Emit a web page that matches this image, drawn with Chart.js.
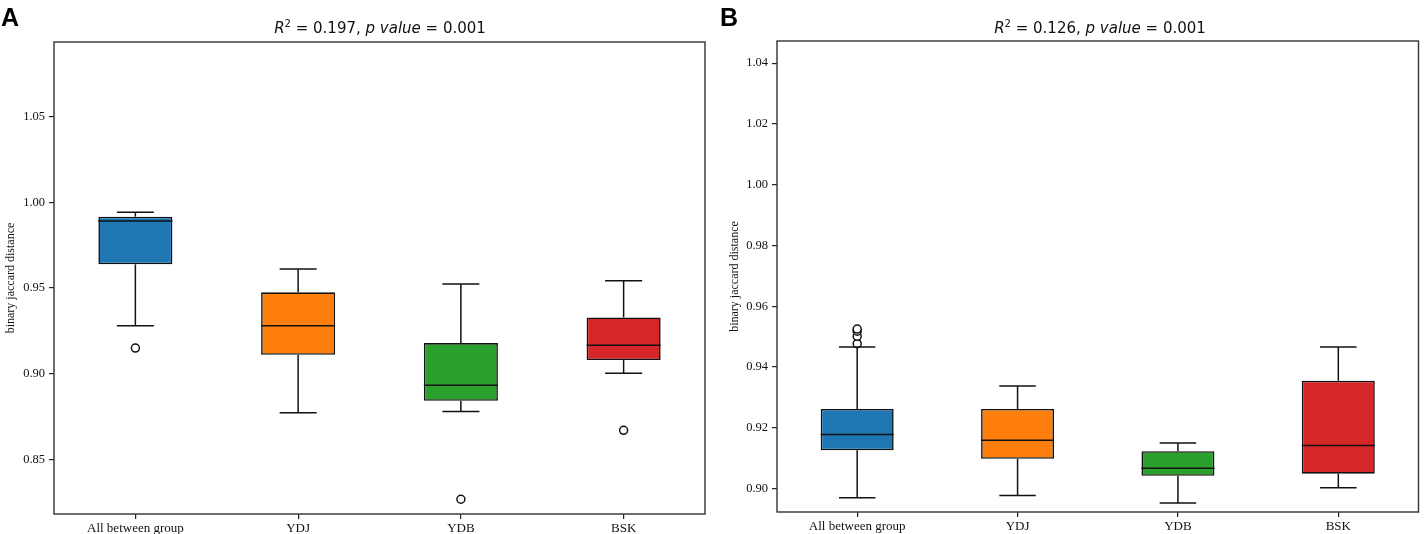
<!DOCTYPE html>
<html>
<head>
<meta charset="utf-8">
<script src="https://cdn.jsdelivr.net/npm/chart.js@4.4.0/dist/chart.umd.min.js"></script>
<style>
  html, body { margin: 0; padding: 0; background: #fff; }
  #wrap { position: relative; width: 1424px; height: 534px; overflow: hidden; }
  .panel { position: absolute; top: 0; width: 712px; height: 534px; }
  .tag { position: absolute; top: 3px; font: bold 25px "Liberation Sans", Arial, sans-serif; color: #000; }
  .title { position: absolute; top: 19px; font: 15px "DejaVu Sans", sans-serif; color: #111; white-space: nowrap; transform: translateX(-50%); }
  .title .sup { font-size: 10px; position: relative; top: -6px; }
</style>
</head>
<body>
<div id="wrap">
  <div class="panel" style="left:0">
    <canvas id="chart-a" width="712" height="534"></canvas>
  </div>
  <div class="panel" style="left:712px">
    <canvas id="chart-b" width="712" height="534"></canvas>
  </div>
  <div class="tag" style="left:1px">A</div>
  <div class="tag" style="left:720px">B</div>
  <div class="title" style="left:380px"><i>R</i><span class="sup">2</span> = 0.197, <i>p value</i> = 0.001</div>
  <div class="title" style="left:1100px"><i>R</i><span class="sup">2</span> = 0.126, <i>p value</i> = 0.001</div>
</div>
<script>
const groups = ['All between group', 'YDJ', 'YDB', 'BSK'];
const colors = ['#1f77b4', '#ff7f0e', '#2ca02c', '#d62728'];

// panel A
const lowA = [0.928, 0.8773, 0.878, 0.9004];
const q1A = [0.9638, 0.9111, 0.8843, 0.908];
const medA = [0.9891, 0.928, 0.8934, 0.9167];
const q3A = [0.9916, 0.9475, 0.9179, 0.9329];
const highA = [0.9942, 0.9611, 0.9523, 0.9543];
const outA = [[0.915], [], [0.8269], [0.8671]];
const ticksA = [0.85, 0.90, 0.95, 1.00, 1.05];

// panel B
const lowB = [0.897, 0.8977, 0.8953, 0.9003];
const q1B = [0.9126, 0.9098, 0.9042, 0.9049];
const medB = [0.9178, 0.9159, 0.9067, 0.9142];
const q3B = [0.9262, 0.9262, 0.9123, 0.9355];
const highB = [0.9466, 0.9338, 0.915, 0.9466];
const outB = [[0.9477, 0.9501, 0.9518, 0.9525], [], [], []];
const ticksB = [0.90, 0.92, 0.94, 0.96, 0.98, 1.00, 1.02, 1.04];

const ink = '#111';

// whiskers, caps and medians, placed with the chart's own scales
const boxParts = {
  id: 'boxParts',
  afterDatasetsDraw(chart, args, opts) {
    const ctx = chart.ctx;
    const x = chart.scales.x;
    const y = chart.scales.y;
    const meta = chart.getDatasetMeta(0);
    ctx.save();
    ctx.strokeStyle = ink;
    ctx.lineWidth = 1.5;
    const seg = (x1, y1, x2, y2) => {
      ctx.beginPath();
      ctx.moveTo(x1, y1);
      ctx.lineTo(x2, y2);
      ctx.stroke();
    };
    opts.med.forEach((m, i) => {
      const cx = x.getPixelForValue(i);
      const half = meta.data[i].width / 2;
      const cap = half / 2;
      const yHigh = y.getPixelForValue(opts.high[i]);
      const yLow = y.getPixelForValue(opts.low[i]);
      seg(cx, y.getPixelForValue(opts.q3[i]), cx, yHigh);
      seg(cx, y.getPixelForValue(opts.q1[i]), cx, yLow);
      seg(cx - cap, yHigh, cx + cap, yHigh);
      seg(cx - cap, yLow, cx + cap, yLow);
      const yMed = y.getPixelForValue(m);
      seg(cx - half, yMed, cx + half, yMed);
    });
    ctx.restore();
  }
};

const frame = {
  id: 'frame',
  afterDraw(chart) {
    const a = chart.chartArea;
    const ctx = chart.ctx;
    ctx.save();
    ctx.strokeStyle = '#333';
    ctx.lineWidth = 1.4;
    ctx.strokeRect(a.left, a.top, a.right - a.left, a.bottom - a.top);
    ctx.restore();
  }
};

function makeConfig(p) {
  const outliers = [];
  p.out.forEach((list, i) => {
    for (let v of list) outliers.push({ x: groups[i], y: v });
  });
  return {
    type: 'bar',
    data: {
      labels: groups,
      datasets: [{
        data: p.q1.map((v, i) => [v, p.q3[i]]),
        backgroundColor: colors,
        borderColor: ink,
        borderWidth: 1.6,
        borderSkipped: false,
        barPercentage: 0.455,
        categoryPercentage: 1
      },
      {
        type: 'line',
        data: outliers,
        showLine: false,
        pointRadius: 4,
        pointBackgroundColor: '#fff',
        pointBorderColor: ink,
        pointBorderWidth: 1.5
      }]
    },
    options: {
      responsive: false,
      animation: false,
      layout: { padding: p.pad },
      plugins: {
        legend: { display: false },
        tooltip: { enabled: false },
        boxParts: { low: p.low, q1: p.q1, med: p.med, q3: p.q3, high: p.high }
      },
      scales: {
        x: {
          afterFit(scale) { scale.height = p.xHeight; },
          grid: { offset: false, drawOnChartArea: false, drawTicks: true, tickLength: 5, color: '#222', lineWidth: 1.2 },
          border: { display: false },
          ticks: { color: ink, padding: 2, font: { family: '"Liberation Serif", "Times New Roman", serif', size: 13 } }
        },
        y: {
          min: p.min,
          max: p.max,
          afterFit(scale) { scale.width = p.yWidth; },
          afterBuildTicks(scale) { scale.ticks = p.ticks.map(v => ({ value: v })); },
          grid: { drawOnChartArea: false, drawTicks: true, tickLength: 5, color: '#222', lineWidth: 1.2 },
          border: { display: false },
          ticks: {
            color: ink,
            padding: 4,
            font: { family: '"Liberation Serif", "Times New Roman", serif', size: 12.5 },
            callback: v => Number(v).toFixed(2)
          },
          title: {
            display: true,
            text: 'binary jaccard distance',
            color: ink,
            padding: { top: 4, bottom: 0 },
            font: { family: '"Liberation Serif", "Times New Roman", serif', size: 12 }
          }
        }
      }
    },
    plugins: [boxParts, frame]
  };
}

const chartA = new Chart(document.getElementById('chart-a'), makeConfig({
  low: lowA, q1: q1A, med: medA, q3: q3A, high: highA, out: outA, ticks: ticksA,
  min: 0.8183, max: 1.0934,
  pad: { top: 42, right: 7, bottom: 0, left: 0 },
  yWidth: 54, xHeight: 20
}));

const chartB = new Chart(document.getElementById('chart-b'), makeConfig({
  low: lowB, q1: q1B, med: medB, q3: q3B, high: highB, out: outB, ticks: ticksB,
  min: 0.8923, max: 1.0473,
  pad: { top: 41, right: 2, bottom: 0, left: 12 },
  yWidth: 53, xHeight: 22
}));
</script>
</body>
</html>
